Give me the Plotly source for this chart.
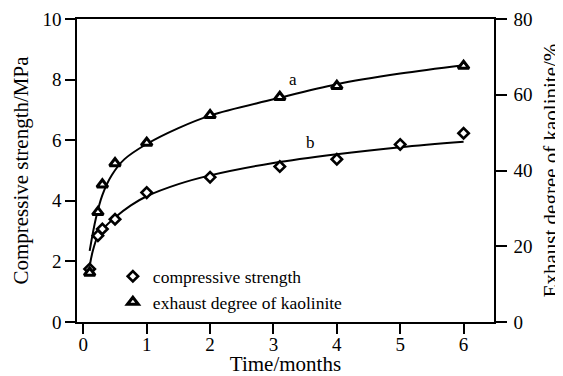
import plotly.graph_objects as go

# ---- data ----
time_strength = [0.1, 0.23, 0.3, 0.5, 1, 2, 3.1, 4, 5, 6]
strength_mpa = [1.75, 2.85, 3.07, 3.39, 4.27, 4.78, 5.13, 5.37, 5.86, 6.23]

time_exhaust = [0.1, 0.23, 0.3, 0.5, 1, 2, 3.1, 4, 6]
exhaust_pct = [13.0, 29.0, 36.3, 41.9, 47.3, 54.6, 59.4, 62.3, 67.6]

# fitted curves
fit_a_x = [0.1, 0.2, 0.3, 0.45, 0.65, 1, 1.5, 2, 3, 4, 5, 6]
fit_a_y = [18.8, 27.5, 33.5, 38.8, 43.0, 47.0, 51.2, 54.5, 58.8, 62.8, 65.6, 67.8]
fit_b_x = [0.1, 0.15, 0.23, 0.3, 0.5, 0.75, 1, 1.5, 2, 3, 4, 5, 6]
fit_b_y = [1.85, 2.35, 2.85, 3.05, 3.45, 3.85, 4.15, 4.55, 4.84, 5.25, 5.54, 5.77, 5.95]

x_ticks = [0, 1, 2, 3, 4, 5, 6]
left_ticks = [0, 2, 4, 6, 8, 10]
right_ticks = [0, 20, 40, 60, 80]

FONT = "Liberation Serif"

fig = go.Figure()

fig.add_trace(go.Scatter(x=fit_a_x, y=fit_a_y, mode="lines", yaxis="y2",
                         line=dict(color="black", width=2, shape="spline", smoothing=1.0),
                         showlegend=False, hoverinfo="skip"))
fig.add_trace(go.Scatter(x=fit_b_x, y=fit_b_y, mode="lines",
                         line=dict(color="black", width=2, shape="spline", smoothing=1.0),
                         showlegend=False, hoverinfo="skip"))

fig.add_trace(go.Scatter(x=time_strength, y=strength_mpa, mode="markers",
                         name="compressive strength",
                         marker=dict(symbol="diamond", size=8, color="white",
                                     line=dict(color="black", width=2.6))))
fig.add_trace(go.Scatter(x=time_exhaust, y=exhaust_pct, mode="markers", yaxis="y2",
                         name="exhaust degree of kaolinite",
                         marker=dict(symbol="triangle-up", size=9.5, color="white",
                                     line=dict(color="black", width=3))))

fig.add_annotation(x=3.31, y=7.99, text="a", showarrow=False,
                   font=dict(family=FONT, size=17, color="black"))
fig.add_annotation(x=3.59, y=5.93, text="b", showarrow=False,
                   font=dict(family=FONT, size=17, color="black"))

axis_common = dict(showgrid=False, zeroline=False, showline=True, linecolor="black",
                   linewidth=1.5, ticks="outside", tickwidth=1.5, automargin=False,
                   tickcolor="black", tickfont=dict(family=FONT, size=19, color="black"))

# page body keeps its default 8px margin, so the figure is 8px smaller each way
fig.update_layout(
    width=555, height=368,
    margin=dict(l=69, r=69, t=11, b=54),
    paper_bgcolor="white", plot_bgcolor="white",
    font=dict(family=FONT, color="black"),
    xaxis=dict(range=[-0.1, 6.48], tickvals=x_ticks, mirror=True, ticklen=10,
               ticklabelstandoff=-6,
               title=dict(text="Time/months", font=dict(family=FONT, size=21), standoff=6),
               **axis_common),
    yaxis=dict(range=[0, 10], tickvals=left_ticks, ticklen=10,
               title=dict(text="Compressive strength/MPa", font=dict(family=FONT, size=21), standoff=8),
               **axis_common),
    yaxis2=dict(range=[0, 80], tickvals=right_ticks, overlaying="y", side="right",
                ticklen=11, ticklabelstandoff=3,
                title=dict(text="Exhaust degree of kaolinite/%", font=dict(family=FONT, size=21), standoff=12),
                **axis_common),
    legend=dict(x=0.086, y=0.21, xanchor="left", yanchor="top", bgcolor="rgba(0,0,0,0)",
                font=dict(family=FONT, size=17.5, color="black"), itemwidth=30),
    showlegend=True,
)

fig.write_html("out.html")
